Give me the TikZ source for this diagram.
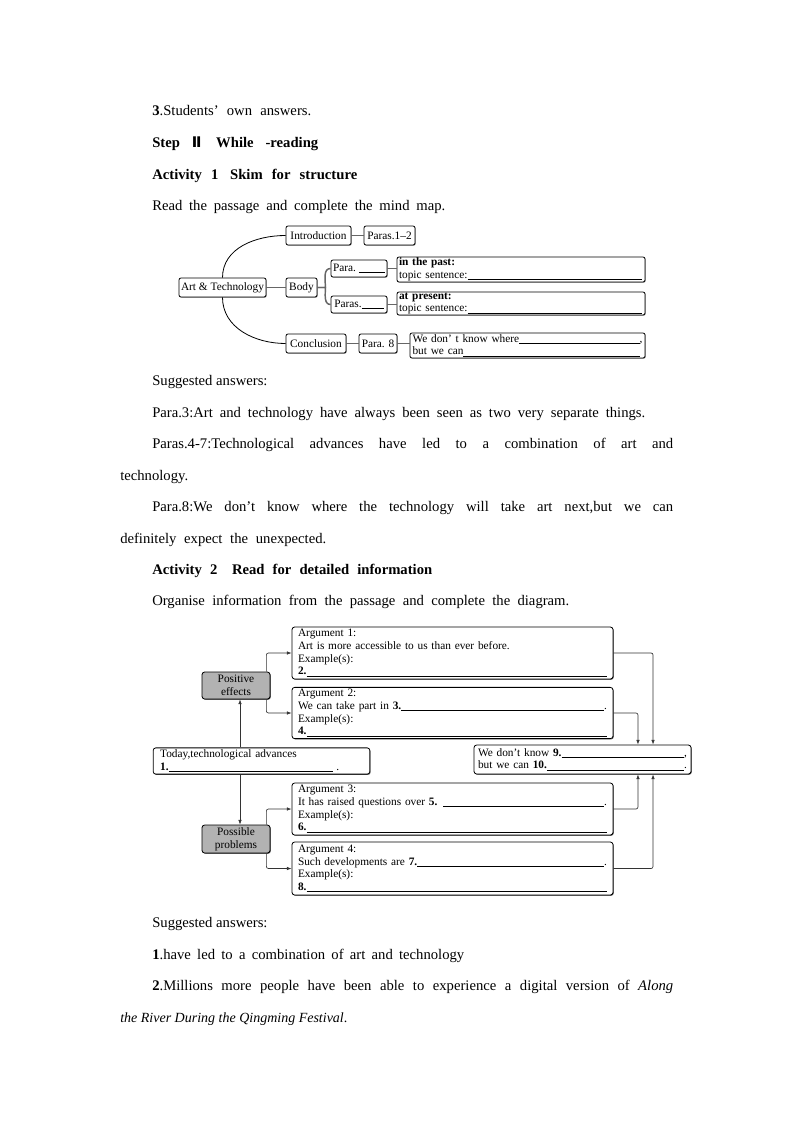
\documentclass[tikz,border=0pt]{standalone}
\usepackage{fontspec}
\setmainfont{Liberation Serif}
\newfontfamily\dejavu{DejaVu Sans}
\usetikzlibrary{arrows.meta,shadows}

\newcommand{\smallfont}{\fontsize{8.5}{9.5}\selectfont}
\newcommand{\blankfill}{\leaders\hrule height -0.7pt depth 1.3pt\hfill\kern0pt}
\newcommand{\fillline}[1]{\noindent\hbox to\hsize{#1}}

\tikzset{
  txt/.style={anchor=base west,inner sep=0pt,font=\fontsize{11}{13}\selectfont},
  mbox/.style={draw,rounded corners=1.5pt,line width=0.6pt,fill=white,inner sep=1pt,
    minimum height=14.25pt,font=\smallfont,
    drop shadow={shadow xshift=0.5pt,shadow yshift=-0.5pt,fill=black,opacity=0.5}},
  tbox/.style={mbox,align=left,inner ysep=0.5pt},
  abox/.style={draw,rounded corners=2pt,line width=0.6pt,fill=white,font=\smallfont,align=left,
    inner xsep=4.5pt,inner ysep=1.5pt,text width=231.75pt,
    drop shadow={shadow xshift=0.6pt,shadow yshift=-0.6pt,fill=black,opacity=0.6}},
  gbox/.style={abox,fill=black!30,align=center,text width=,inner sep=1pt,
    minimum width=51pt,minimum height=20.25pt},
  link/.style={draw=black!60,line width=1.1pt},
  arc/.style={line width=0.6pt},
  arr/.style={-{Latex[length=3.5pt,width=2.6pt]},line width=0.5pt,draw=black!80,rounded corners=1.5pt}
}

\begin{document}
\begin{tikzpicture}[x=0.75pt,y=-0.75pt]
\path[fill=white] (0,0) rectangle (794,1123);

% text above the mind map
\node[txt] (t1) at (152,116) {\makebox[119.25pt][s]{\textbf{3}.Students’ own answers.}};
\node[txt] (t2) at (152,148) {\makebox[124.5pt][s]{\bfseries Step {\dejavu Ⅱ}\hspace{1em}While -reading}};
\node[txt] (t3) at (152,179.5) {\makebox[153.75pt][s]{\bfseries Activity 1\hspace{0.8em}Skim for structure}};
\node[txt] (t4) at (152,211) {\makebox[219.75pt][s]{Read the passage and complete the mind map.}};

% mind map
\node[mbox,minimum width=65.25pt] (art) at (222.5,287.5) {Art \& Technology};
\node[mbox,minimum width=48.75pt] (intro) at (318.5,235.5) {Introduction};
\node[mbox,minimum width=38.25pt] (p12) at (389.5,235.5) {Paras.1–2};
\node[mbox,minimum width=23.25pt] (body) at (301.5,287.5) {Body};
\node[mbox,minimum width=42pt,minimum height=12.75pt] (para) at (359,268.5) {Para.~\rule[-1pt]{19.5pt}{0.6pt}};
\node[mbox,minimum width=42pt,minimum height=12.75pt] (paras) at (359,304.5) {Paras.\rule[-1pt]{16.5pt}{0.6pt}};
\node[tbox,text width=183pt,inner xsep=1.5pt,minimum height=18.75pt] (past) at (521,269.5)
  {\textbf{in the past:}\\\fillline{topic sentence:\blankfill\kern1pt}};
\node[tbox,text width=183pt,inner xsep=1.5pt,minimum height=17.25pt] (present) at (521,303.5)
  {\textbf{at present:}\\\fillline{topic sentence:\blankfill\kern1pt}};
\node[mbox,minimum width=45pt] (concl) at (316,343.5) {Conclusion};
\node[mbox,minimum width=28.5pt] (p8) at (378,343.5) {Para. 8};
\node[tbox,text width=172.5pt,inner xsep=1.9pt,minimum height=18.75pt] (where) at (527.5,345.5)
  {\fillline{We don’ t know where\blankfill,}\\\fillline{but we can\blankfill\kern2pt}};

\draw[arc] (art.north) to[out=90,in=180] (intro.west);
\draw[arc] (art.south) to[out=-90,in=180] (concl.west);
\draw[link] (art.east) -- (body.west);
\draw[link] (intro.east) -- (p12.west);
\draw[link] (body.east) -- ++(8,0) to[out=90,in=180] (para.west);
\draw[link] (body.east) -- ++(8,0) to[out=-90,in=180] (paras.west);
\draw[link] (para.east) -- (para.east -| past.west);
\draw[link] (paras.east) -- (paras.east -| present.west);
\draw[link] (concl.east) -- (p8.west);
\draw[link] (p8.east) -- (p8.east -| where.west);

% answers
\node[txt] (t5) at (152,385) {Suggested answers:};
\node[txt] (t6) at (152,417) {\makebox[369.75pt][s]{Para.3:Art and technology have always been seen as two very separate things.}};
\node[txt] (t7) at (152,448) {\makebox[390.75pt][s]{Paras.4-7:Technological advances have led to a combination of art and}};
\node[txt] (t8) at (120,480) {technology.};
\node[txt] (t9) at (152,511) {\makebox[390.75pt][s]{Para.8:We don’t know where the technology will take art next,but we can}};
\node[txt] (t10) at (120,543) {\makebox[154.5pt][s]{definitely expect the unexpected.}};
\node[txt] (t11) at (152,574.5) {\makebox[210pt][s]{\bfseries Activity 2\hspace{1em}Read for detailed information}};
\node[txt] (t12) at (152,605.5) {\makebox[312.75pt][s]{Organise information from the passage and complete the diagram.}};

% diagram
\node[gbox] (pos) at (236,685.5) {Positive\\effects};
\node[gbox,minimum height=21pt] (prob) at (236,839) {Possible\\problems};
\node[abox,minimum height=39pt] (arg1) at (452.5,653)
  {Argument 1:\\Art is more accessible to us than ever before.\\Example(s):\\\fillline{\textbf{2.}\blankfill}};
\node[abox,minimum height=37.5pt] (arg2) at (452.5,713)
  {Argument 2:\\\fillline{We can take part in \textbf{3.}\blankfill.}\\Example(s):\\\fillline{\textbf{4.}\blankfill}};
\node[abox,minimum height=39pt] (arg3) at (452.5,809)
  {Argument 3:\\\fillline{It has raised questions over \textbf{5.} \blankfill.}\\Example(s):\\\fillline{\textbf{6.}\blankfill}};
\node[abox,minimum height=39.75pt] (arg4) at (452.5,868.5)
  {Argument 4:\\\fillline{Such developments are \textbf{7.}\blankfill.}\\Example(s):\\\fillline{\textbf{8.}\blankfill}};
\node[abox,text width=152pt,inner xsep=5.25pt,minimum height=19.5pt] (today) at (261.5,761)
  {Today,technological advances\\\textbf{1.}\rule[-1.3pt]{123pt}{0.6pt}\ .};
\node[abox,text width=156.75pt,inner xsep=3pt,minimum height=21.75pt] (know) at (582.5,759.5)
  {\fillline{We don’t know \textbf{9.}\blankfill,}\\\fillline{but we can \textbf{10.}\blankfill.}};

\draw[arr] ([xshift=3pt]today.north -| pos.south) -- ([xshift=3pt]pos.south);
\draw[arr] ([xshift=3pt]today.south -| prob.north) -- ([xshift=3pt]prob.north);
\draw[arr] ([xshift=-3pt]pos.north east) |- (arg1.west);
\draw[arr] ([xshift=-3pt]pos.south east) |- (arg2.west);
\draw[arr] ([xshift=-3pt]prob.north east) |- (arg3.west);
\draw[arr] ([xshift=-3pt]prob.south east) |- (arg4.west);
\draw[arr] (arg1.east) -| ([xshift=52.9pt]know.north);
\draw[arr] (arg2.east) -| ([xshift=41.6pt]know.north);
\draw[arr] (arg3.east) -| ([xshift=41.6pt]know.south);
\draw[arr] (arg4.east) -| ([xshift=52.9pt]know.south);

% answers
\node[txt] (t13) at (152,927.5) {Suggested answers:};
\node[txt] (t14) at (152,959) {\makebox[234pt][s]{\textbf{1}.have led to a combination of art and technology}};
\node[txt] (t15) at (152,990.5) {\makebox[390.75pt][s]{\textbf{2}.Millions more people have been able to experience a digital version of \textit{Along}}};
\node[txt,font=\fontsize{10.5}{12}\selectfont] (t16) at (120,1022) {\textit{the River During the Qingming Festival}.};
\end{tikzpicture}
\end{document}
